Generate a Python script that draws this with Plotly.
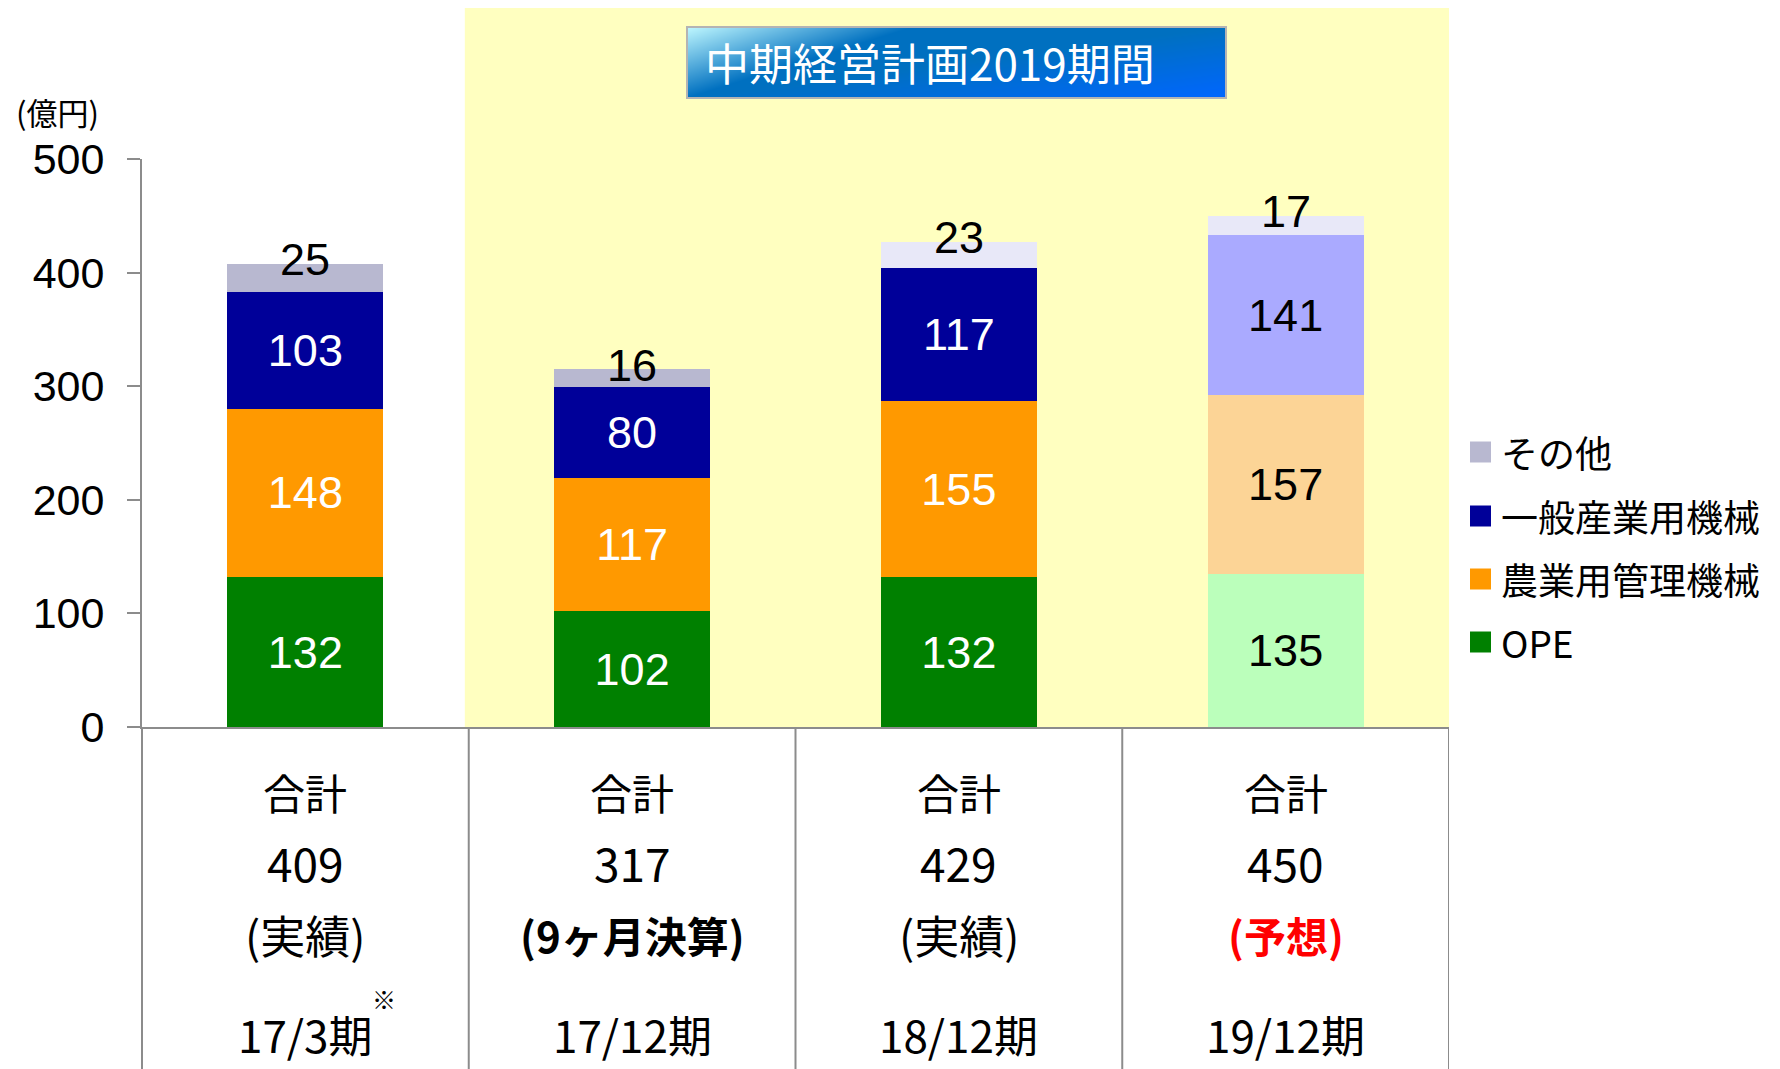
import base64
import struct
import zlib

import plotly.graph_objects as go

# ---------------- data ----------------
periods = ["17/3期", "17/12期", "18/12期", "19/12期"]
totals = [409, 317, 429, 450]
statuses = ["(実績)", "(9ヶ月決算)", "(実績)", "(予想)"]
series_names = ["OPE", "農業用管理機械", "一般産業用機械", "その他"]
ope = [132, 102, 132, 135]
agri = [148, 117, 155, 157]
industrial = [103, 80, 117, 141]
other = [25, 16, 23, 17]
y_ticks = [0, 100, 200, 300, 400, 500]
unit_label = "(億円)"
banner_text = "中期経営計画2019期間"
sum_label = "合計"
footnote_mark = "※"

# ---------------- styles ----------------
NUM_FONT = "Liberation Sans, Arial, sans-serif"
JP_FONT = "Noto Sans CJK JP, sans-serif"
GRAY = "#8c8c8c"
ope_colors = ["#008000", "#008000", "#008000", "#BBFFBB"]
agri_colors = ["#FF9900", "#FF9900", "#FF9900", "#FCD496"]
ind_colors = ["#000099", "#000099", "#000099", "#AAAAFF"]
other_colors = ["#B8B8D0", "#B8B8D0", "#E8E8F8", "#E8E8F8"]
inner_text_colors = ["white", "white", "white", "black"]
legend_colors = {"その他": "#B8B8D0", "一般産業用機械": "#000099",
                 "農業用管理機械": "#FF9900", "OPE": "#008000"}

W, H = 1780, 1069
ML, MR, MT, MB = 142, 331, 159, 342
PW, PH = W - ML - MR, H - MT - MB


def px_x(px):
    return (px - ML) / PW


def px_y(py):
    return (H - MB - py) / PH


BAR_W = 0.477
fig = go.Figure()
stack = [ope, agri, industrial, other]
colors = [ope_colors, agri_colors, ind_colors, other_colors]
for name, vals, cols in zip(series_names, stack, colors):
    is_other = name == "その他"
    fig.add_trace(go.Bar(
        x=periods, y=vals, name=name, width=BAR_W,
        marker=dict(color=cols, line=dict(width=0)),
        text=None if is_other else [str(v) for v in vals],
        textposition="none" if is_other else "inside",
        insidetextanchor="middle", textangle=0,
        textfont=dict(family=NUM_FONT, size=45, color=inner_text_colors),
        showlegend=False, hoverinfo="x+y+name",
    ))

annotations = []
shapes = []

# labels for "その他" placed at top of each stack
for i, p in enumerate(periods):
    top = ope[i] + agri[i] + industrial[i] + other[i]
    annotations.append(dict(x=p, y=top, xref="x", yref="y", text=str(other[i]),
                            showarrow=False, xanchor="center", yanchor="middle", yshift=4,
                            font=dict(family=NUM_FONT, size=45, color="black")))

# highlighted plan-period background
shapes.append(dict(type="rect", xref="x", yref="paper", x0=0.488, x1=3.5,
                   y0=0, y1=px_y(8), fillcolor="#FFFFC0", line=dict(width=0),
                   layer="below"))

# banner with gradient (decorative image)
bx0, bx1, by0, by1 = 687, 1226, 27, 98
bw, bh = bx1 - bx0, by1 - by0
base = (0, 112, 192)
light = (192, 248, 255)
bright = (0, 102, 255)


def mix(a, b, t):
    return tuple(int(round(a[k] + (b[k] - a[k]) * t)) for k in range(3))


def banner_pixel(x, y):
    u = (x + 0.5) / bw
    v = (y + 0.5) / bh
    L = max(0.0, 1 - (u / 0.42 + v / 1.0))
    B = max(0.0, u + v - 1.0)
    col = mix(base, light, L)
    return mix(col, bright, B)


def png_uri(w, h, fn):
    raw = bytearray()
    for yy in range(h):
        raw.append(0)
        for xx in range(w):
            raw.extend(fn(xx, yy))

    def chunk(t, d):
        c = struct.pack(">I", len(d)) + t + d
        return c + struct.pack(">I", zlib.crc32(t + d) & 0xffffffff)

    png = (b"\x89PNG\r\n\x1a\n"
           + chunk(b"IHDR", struct.pack(">IIBBBBB", w, h, 8, 2, 0, 0, 0))
           + chunk(b"IDAT", zlib.compress(bytes(raw), 9))
           + chunk(b"IEND", b""))
    return "data:image/png;base64," + base64.b64encode(png).decode()


images = [dict(source=png_uri(bw, bh, banner_pixel), xref="paper", yref="paper",
               x=px_x(bx0), y=px_y(by0), sizex=bw / PW, sizey=bh / PH,
               xanchor="left", yanchor="top", sizing="stretch", layer="above")]
shapes.append(dict(type="rect", xref="paper", yref="paper",
                   x0=px_x(bx0), x1=px_x(bx1), y0=px_y(by1), y1=px_y(by0),
                   line=dict(color="#B4B4B4", width=2), layer="above"))
annotations.append(dict(x=px_x(930), y=px_y(62), xref="paper", yref="paper",
                        text=banner_text, showarrow=False,
                        xanchor="center", yanchor="middle",
                        font=dict(family=JP_FONT, size=44, color="white")))

# table lines below axis
bottom = px_y(H)
shapes.append(dict(type="line", xref="paper", yref="paper", x0=0, x1=0,
                   y0=0, y1=bottom, line=dict(color=GRAY, width=2)))
for b in [0.5, 1.5, 2.5, 3.5]:
    shapes.append(dict(type="line", xref="x", yref="paper", x0=b, x1=b,
                       y0=0, y1=bottom, line=dict(color=GRAY, width=2)))


def tbl(x, py, text, size, color="black"):
    return dict(x=x, y=px_y(py), xref="x", yref="paper", text=text,
                showarrow=False, xanchor="center", yanchor="middle",
                font=dict(family=JP_FONT, size=size, color=color))


# table texts
for i, p in enumerate(periods):
    annotations.append(tbl(p, 791, sum_label, 42))
    annotations.append(tbl(p, 862, str(totals[i]), 46))
    st = statuses[i]
    if i == 1:
        annotations.append(tbl(p, 934, "<b>%s</b>" % st, 42))
    elif i == 3:
        annotations.append(tbl(p, 934, "<b>%s</b>" % st, 42, "#FF0000"))
    else:
        annotations.append(tbl(p, 934, st, 45))
    annotations.append(tbl(p, 1034, p, 44))
annotations.append(tbl(0.24, 998, footnote_mark, 24))

# unit label
annotations.append(dict(x=px_x(57), y=px_y(112), xref="paper", yref="paper", text=unit_label,
                        showarrow=False, xanchor="center", yanchor="middle",
                        font=dict(family=JP_FONT, size=31, color="black")))

# manual legend
legend_order = ["その他", "一般産業用機械", "農業用管理機械", "OPE"]
legend_rows = [452, 516, 579, 642]
for name, cy in zip(legend_order, legend_rows):
    shapes.append(dict(type="rect", xref="paper", yref="paper",
                       x0=px_x(1470), x1=px_x(1491), y0=px_y(cy + 10.5), y1=px_y(cy - 10.5),
                       fillcolor=legend_colors[name], line=dict(width=0)))
    annotations.append(dict(x=px_x(1499), y=px_y(cy), xref="paper", yref="paper",
                            text=name, showarrow=False, xanchor="left", yanchor="middle",
                            font=dict(family=JP_FONT, size=37, color="black")))

fig.update_layout(
    width=W, height=H, barmode="stack",
    margin=dict(l=ML, r=MR, t=MT, b=MB, pad=0),
    paper_bgcolor="white", plot_bgcolor="white",
    showlegend=False, shapes=shapes, annotations=annotations, images=images,
    xaxis=dict(showticklabels=False, ticks="", showgrid=False, zeroline=False,
               showline=True, linecolor=GRAY, linewidth=2, range=[-0.5, 3.5],
               fixedrange=True),
    yaxis=dict(range=[0, 500], tickvals=y_ticks, showgrid=False, zeroline=False,
               showline=True, linecolor=GRAY, linewidth=2,
               ticks="outside", ticklen=13, tickwidth=2, tickcolor=GRAY,
               ticklabelstandoff=14,
               tickfont=dict(family=NUM_FONT, size=43, color="black"),
               fixedrange=True),
)

fig.write_html("out.html", config={"displayModeBar": False},
               post_script="document.body.style.margin='0';document.body.style.padding='0';")
